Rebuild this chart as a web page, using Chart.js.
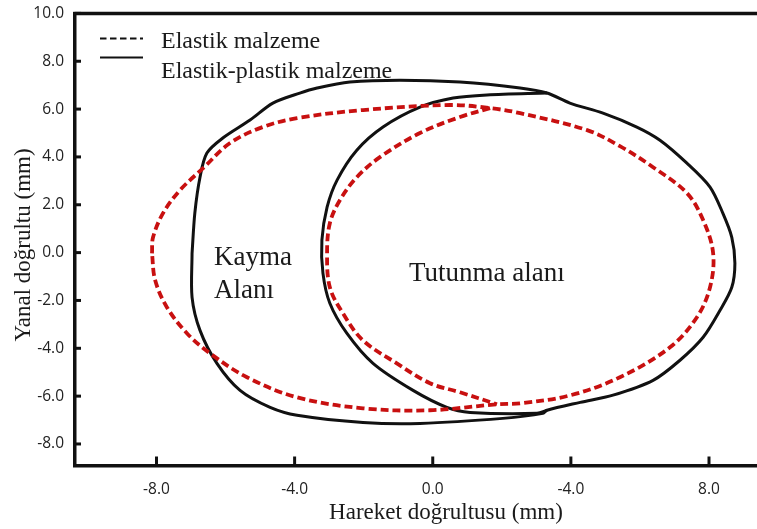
<!DOCTYPE html>
<html>
<head>
<meta charset="utf-8">
<script src="https://cdn.jsdelivr.net/npm/chart.js@4.4.1/dist/chart.umd.min.js"></script>
<style>
  html, body { margin: 0; padding: 0; background: #ffffff; }
  #wrap { width: 757px; height: 529px; }
</style>
</head>
<body>
<div id="wrap"><canvas id="c" width="757" height="529"></canvas></div>
<script>
// ---- Data ----
const xTickValues = [-8, -4, 0, 4, 8];
const xTickLabels = ["-8.0", "-4.0", "0.0", "-4.0", "8.0"];
const yTickValues = [-8, -6, -4, -2, 0, 2, 4, 6, 8, 10];
const yTickLabels = ["-8.0", "-6.0", "-4.0", "-2.0", "0.0", "2.0", "4.0", "6.0", "8.0", "10.0"];

const seriesNames = ["Elastik malzeme", "Elastik-plastik malzeme"];
const xTitle = "Hareket doğrultusu (mm)";
const yTitle = "Yanal doğrultu (mm)";
const regionLabels = ["Kayma", "Alanı", "Tutunma alanı"];

// Elastic material: contact area boundary (red dashed, closed)
const elasticOuterX = [-8.13, -8.10, -7.81, -7.32, -6.65, -5.87, -4.92, -3.93, -2.02, 0.50, 1.66, 2.53, 4.47, 5.42, 6.38, 7.36, 7.83, 8.12, 8.03, 7.65, 6.87, 5.42, 3.97, 2.53, 1.86, -0.08, -2.02, -3.93, -5.38, -6.45, -7.12, -7.70, -8.04, -8.13];
const elasticOuterY = [-0.03, 0.64, 1.65, 2.61, 3.53, 4.58, 5.25, 5.62, 5.96, 6.17, 6.04, 5.83, 5.12, 4.45, 3.57, 2.49, 1.36, -0.03, -1.45, -2.70, -3.96, -5.21, -5.97, -6.30, -6.34, -6.59, -6.51, -6.05, -5.21, -4.21, -3.37, -2.28, -1.15, -0.03];
// Elastic material: stick zone boundary (red dashed, inner arc)
const elasticInnerX = [1.66, 0.79, -0.37, -1.53, -2.20, -2.69, -2.98, -3.06, -2.98, -2.60, -2.02, -1.04, -0.08, 0.79, 1.86];
const elasticInnerY = [6.04, 5.67, 5.00, 3.99, 3.15, 2.19, 1.23, -0.03, -1.45, -2.54, -3.67, -4.63, -5.46, -5.84, -6.34];

// Elastic-plastic material: contact area boundary (black solid, closed)
const plasticOuterX = [-6.97, -6.89, -6.74, -6.54, -6.08, -5.29, -4.63, -3.85, -3.35, -2.40, -0.95, 0.79, 2.53, 3.31, 3.97, 4.93, 5.91, 6.58, 7.36, 8.03, 8.40, 8.66, 8.75, 8.66, 8.32, 7.83, 7.16, 6.38, 5.22, 4.27, 3.31, 3.19, 2.03, -0.37, -2.02, -3.93, -4.71, -5.58, -6.25, -6.74, -6.97, -6.97];
const plasticOuterY = [-0.03, 1.65, 3.15, 4.16, 4.79, 5.54, 6.25, 6.67, 6.88, 7.13, 7.21, 7.13, 6.88, 6.67, 6.25, 5.83, 5.25, 4.70, 3.74, 2.74, 1.65, 0.64, -0.44, -1.45, -2.41, -3.54, -4.50, -5.34, -5.96, -6.26, -6.59, -6.72, -6.93, -7.14, -7.10, -6.80, -6.47, -5.76, -4.63, -3.25, -1.87, -0.03];
// Elastic-plastic material: stick zone boundary (black solid, inner arc)
const plasticInnerX = [3.31, 1.57, 0.59, -0.37, -1.44, -2.20, -2.77, -3.06, -3.21, -3.18, -2.98, -2.49, -1.73, -0.57, 0.41, 1.08, 3.02, 3.31];
const plasticInnerY = [6.67, 6.59, 6.46, 6.08, 5.25, 4.28, 3.03, 1.90, 0.52, -0.86, -2.12, -3.37, -4.63, -5.76, -6.47, -6.68, -6.72, -6.59];

// ---- Build ----
const toPts = (xs, ys) => xs.map((x, i) => ({ x: x, y: ys[i] }));
const RED = '#c81010';
const BLACK = '#111111';
const SERIF = '"Liberation Serif", "Times New Roman", serif';
const SANS = '"Open Sans", "Liberation Sans", sans-serif';

const decorPlugin = {
  id: 'decor',
  afterDraw(chart) {
    const ctx = chart.ctx;
    const area = chart.chartArea;
    const xs = chart.scales.x, ys = chart.scales.y;
    ctx.save();
    // top frame line
    ctx.strokeStyle = BLACK;
    ctx.lineWidth = 3.5;
    ctx.beginPath();
    ctx.moveTo(area.left - 1.75, area.top);
    ctx.lineTo(area.right, area.top);
    ctx.stroke();
    // inward tick marks
    ctx.lineWidth = 3;
    yTickValues.forEach(v => {
      const py = ys.getPixelForValue(v);
      ctx.beginPath();
      ctx.moveTo(area.left, py);
      ctx.lineTo(area.left + 6, py);
      ctx.stroke();
    });
    xTickValues.forEach(v => {
      const px = xs.getPixelForValue(v);
      ctx.beginPath();
      ctx.moveTo(px, area.bottom);
      ctx.lineTo(px, area.bottom - 9);
      ctx.stroke();
    });
    // legend
    ctx.lineWidth = 2;
    ctx.setLineDash([6.5, 3.5]);
    ctx.beginPath();
    ctx.moveTo(100, 38.5);
    ctx.lineTo(143, 38.5);
    ctx.stroke();
    ctx.setLineDash([]);
    ctx.beginPath();
    ctx.moveTo(100, 57.5);
    ctx.lineTo(143, 57.5);
    ctx.stroke();
    ctx.fillStyle = '#1a1a1a';
    ctx.textBaseline = 'alphabetic';
    ctx.textAlign = 'left';
    ctx.font = '24px ' + SERIF;
    ctx.fillText(seriesNames[0], 161, 48);
    ctx.fillText(seriesNames[1], 161, 78);
    // region labels
    ctx.font = '27px ' + SERIF;
    ctx.fillText(regionLabels[0], 214, 265);
    ctx.fillText(regionLabels[1], 214, 298);
    ctx.fillText(regionLabels[2], 409, 281);
    // axis titles
    ctx.font = '23px ' + SERIF;
    ctx.textAlign = 'center';
    ctx.fillText(xTitle, 446, 519);
    ctx.translate(30, 245);
    ctx.rotate(-Math.PI / 2);
    ctx.fillText(yTitle, 0, 0);
    ctx.restore();
  }
};

new Chart(document.getElementById('c'), {
  type: 'scatter',
  data: {
    datasets: [
      { label: seriesNames[0], data: toPts(elasticOuterX, elasticOuterY), showLine: true, borderColor: RED, borderWidth: 3.8, borderDash: [8, 4], pointRadius: 0, tension: 0.35, fill: false },
      { label: seriesNames[0] + ' (stick)', data: toPts(elasticInnerX, elasticInnerY), showLine: true, borderColor: RED, borderWidth: 3.8, borderDash: [8, 4], pointRadius: 0, tension: 0.35, fill: false },
      { label: seriesNames[1], data: toPts(plasticOuterX, plasticOuterY), showLine: true, borderColor: BLACK, borderWidth: 3, pointRadius: 0, tension: 0.3, fill: false },
      { label: seriesNames[1] + ' (stick)', data: toPts(plasticInnerX, plasticInnerY), showLine: true, borderColor: BLACK, borderWidth: 3, pointRadius: 0, tension: 0.3, fill: false }
    ]
  },
  options: {
    responsive: false,
    animation: false,
    devicePixelRatio: 1,
    layout: { padding: { top: 13.4, right: 0, left: 0, bottom: 0 } },
    plugins: { legend: { display: false }, tooltip: { enabled: false } },
    scales: {
      x: {
        type: 'linear',
        min: -10.36,
        max: 9.39,
        afterBuildTicks: (scale) => { scale.ticks = xTickValues.map(v => ({ value: v })); },
        afterFit: (scale) => { scale.height = 63.5; scale.paddingLeft = 0; scale.paddingRight = 0; },
        ticks: {
          callback: (v, i) => xTickLabels[i],
          font: { family: SANS, size: 15.5 },
          color: '#222222',
          padding: 15,
          maxRotation: 0,
          autoSkip: false
        },
        grid: { display: false, drawTicks: false },
        border: { display: true, color: BLACK, width: 3.5 }
      },
      y: {
        type: 'linear',
        min: -8.9,
        max: 10,
        afterBuildTicks: (scale) => { scale.ticks = yTickValues.map(v => ({ value: v })); },
        afterFit: (scale) => { scale.width = 75; scale.paddingTop = 0; scale.paddingBottom = 0; },
        ticks: {
          callback: (v, i) => yTickLabels[i],
          font: { family: SANS, size: 15.5 },
          color: '#222222',
          padding: 11,
          autoSkip: false
        },
        grid: { display: false, drawTicks: false },
        border: { display: true, color: BLACK, width: 3.5 }
      }
    }
  },
  plugins: [decorPlugin]
});
</script>
</body>
</html>
